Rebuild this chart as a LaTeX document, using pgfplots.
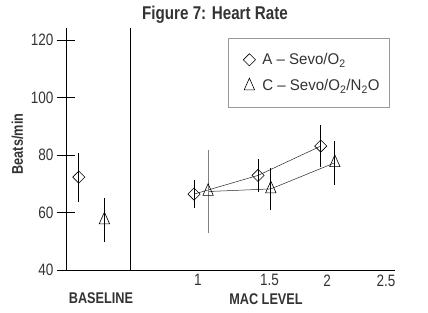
\documentclass[border=0pt]{standalone}
\usepackage{fontspec}
\setmainfont{Liberation Sans}[FakeStretch=0.82]
\newfontfamily\legfont{Liberation Sans}[FakeStretch=0.97]
\usepackage{pgfplots}
\pgfplotsset{compat=1.18}
\definecolor{txt}{HTML}{333333}
\begin{document}
\begin{tikzpicture}
\useasboundingbox (0,0) rectangle (428bp,313bp);
\begin{axis}[
  at={(66bp,43bp)}, anchor=south west,
  scale only axis, width=329bp, height=241.5bp,
  xmin=0, xmax=2.57, ymin=40, ymax=124,
  axis x line*=bottom, axis y line*=left,
  axis line style={-, line width=0.9bp, black},
  ytick={40,60,...,120}, tick align=center,
  y tick style={line width=0.9bp, black},
  major tick length=18bp, x tick style={draw=none},
  xtick={1.03,1.59,2.04,2.5}, xticklabels={1,1.5,2,2.5},
  xticklabel style={yshift=8bp},
  tick label style={font=\fontsize{16.5bp}{17bp}\selectfont, text=txt},
  /pgf/number format/assume math mode=true,
  legend style={at={(0.4924,0.9606)}, anchor=north west, draw=gray!80, line width=0.8bp,
    text=txt, font=\legfont\fontsize{15.5bp}{18bp}\selectfont, inner xsep=8bp, inner ysep=14bp,
    row sep=11bp, nodes={inner xsep=2bp, inner ysep=1bp}},
  legend cell align=left,
  legend image code/.code={\path[draw=none,fill=none] (0,-5bp) rectangle (24bp,5bp); \draw[#1] plot coordinates {(13bp,0bp)};},
  clip=false,
]
% baseline
\addplot[only marks, mark=square, mark size=4.3bp, mark options={rotate=45, fill=white, black, line width=0.6bp},
  error bars/.cd, y dir=both, y explicit, error mark=-, error mark options={mark size=4.3bp, black, line width=0.7bp},
  error bar style={black, line width=0.7bp}]
  coordinates {(0.10,72.3) +- (0,7.0)};
\addlegendentry{A – Sevo/O\textsubscript{2}}
\addplot[only marks, mark=triangle, mark size=6bp, mark options={yscale=1.3, fill=white, black, line width=0.6bp},
  error bars/.cd, y dir=both, y explicit, error mark=-, error mark options={mark size=4.3bp, black, line width=0.7bp},
  error bar style={black, line width=0.7bp}]
  coordinates {(0.30,57.4) +- (0,6.1)};
\addlegendentry{C – Sevo/O\textsubscript{2}/N\textsubscript{2}O}
% separator
\addplot[black, line width=0.9bp, forget plot] coordinates {(0.5,40) (0.5,124)};
% MAC lines
\addplot[forget plot, black!85, line width=0.5bp] coordinates {(1.00,66.4) (1.50,72.9) (1.99,83.1)};
\addplot[forget plot, black!85, line width=0.5bp] coordinates {(1.11,67.3) (1.60,68.2) (2.10,77.3)};
% MAC diamonds
\addplot[forget plot, only marks, mark=square, mark size=4.3bp, mark options={rotate=45, fill=white, black, line width=0.6bp},
  error bars/.cd, y dir=both, y explicit, error mark=-, error mark options={mark size=4.3bp, black, line width=0.7bp},
  error bar style={black, line width=0.7bp}]
  coordinates {(1.00,66.4) +- (0,3.5) (1.50,72.9) +- (0,4.2) (1.99,83.1) +- (0,5.8)};
% MAC triangles
\addplot[forget plot, only marks, mark=triangle, mark size=6bp, mark options={yscale=1.3, fill=white, black, line width=0.6bp},
  error bars/.cd, y dir=both, y explicit, error mark=-, error mark options={mark size=4.3bp, gray, line width=0.7bp},
  error bar style={gray, line width=0.7bp}]
  coordinates {(1.11,67.3) +- (0,13.0)};
\addplot[forget plot, only marks, mark=triangle, mark size=6bp, mark options={yscale=1.3, fill=white, black, line width=0.6bp},
  error bars/.cd, y dir=both, y explicit, error mark=-, error mark options={mark size=4.3bp, black, line width=0.7bp},
  error bar style={black, line width=0.7bp}]
  coordinates {(1.60,68.2) +- (0,5.9) (2.10,77.3) +- (0,6.2)};
\end{axis}
\node[font=\bfseries\fontsize{18.5bp}{19bp}\selectfont, text=txt] at (215bp,298bp) {Figure 7: Heart Rate};
\node[font=\bfseries\fontsize{15.5bp}{16bp}\selectfont, text=txt] at (101bp,15bp) {BASELINE};
\node[font=\bfseries\fontsize{15.5bp}{16bp}\selectfont, text=txt] at (266bp,14bp) {MAC LEVEL};
\node[font=\bfseries\fontsize{15.5bp}{16bp}\selectfont, text=txt, rotate=90] at (17.5bp,169bp) {Beats/min};
\end{tikzpicture}
\end{document}
